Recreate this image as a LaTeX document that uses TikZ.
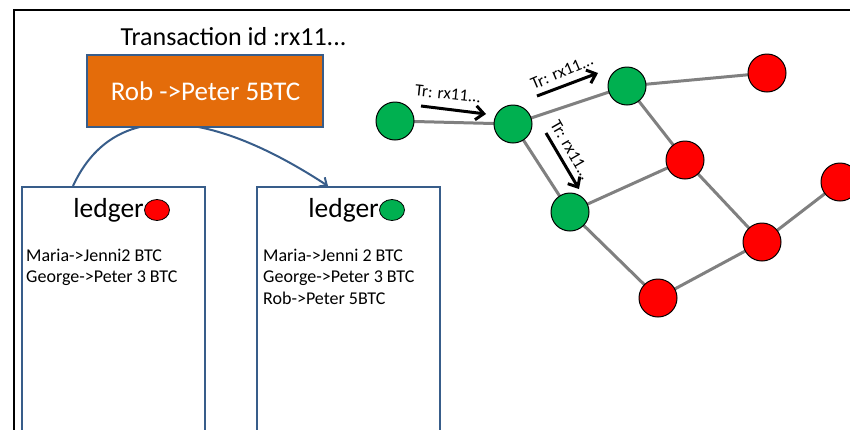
\documentclass[tikz,border=0pt]{standalone}
\usepackage{fontspec}
\setmainfont{Carlito}
\usetikzlibrary{arrows.meta,shapes.geometric}
\definecolor{boxblue}{HTML}{385D8A}
\definecolor{txorange}{HTML}{E46C0A}
\definecolor{nodegreen}{HTML}{00B050}
\definecolor{nodered}{HTML}{FF0000}
\definecolor{linkgray}{HTML}{808080}

\begin{document}
\begin{tikzpicture}[x=1pt,y=-1pt,
  peer/.style={circle,draw=black,line width=1pt,minimum size=38pt,inner sep=0pt},
  ok/.style={peer,fill=nodegreen},
  bad/.style={peer,fill=nodered},
  link/.style={draw=linkgray,line width=3pt},
  ledgerbox/.style={draw=boxblue,line width=2pt,minimum width=183pt,minimum height=270pt,anchor=north,inner sep=0pt},
  ledgertitle/.style={anchor=base east,inner sep=0pt,font=\fontsize{27.5}{31}\selectfont},
  dot/.style={ellipse,draw=black,line width=0.8pt,minimum width=25pt,minimum height=21pt,inner sep=0pt},
  entry/.style={anchor=base west,inner sep=0pt,font=\fontsize{18}{21}\selectfont},
  txarrow/.style={line width=3pt,-{Straight Barb[length=8pt,width=14pt]}},
  txlabel/.style={font=\fontsize{17}{19}\selectfont,inner sep=0pt},
]
\useasboundingbox (0,0) rectangle (850,429);

% outer frame (only top and left edges fall inside the page)
\draw[line width=2.5pt] (14,440) -- (14,10) -- (860,10);

% ledger boxes
\node[ledgerbox] (ledgerold) at (113.5,186) {};
\node[ledgerbox] (ledgernew) at (348.5,186) {};

% transfer of the ledger, passing behind the transaction box
\draw[draw=boxblue,line width=2pt,-{Straight Barb[length=6pt,width=11pt]}]
  ([xshift=-40.5pt]ledgerold.north) .. controls (115,95) and (215,112) .. ([xshift=-20.5pt]ledgernew.north);

% transaction
\node[anchor=base,inner sep=0pt,font=\fontsize{26}{30}\selectfont] (txid) at (233.5,45) {Transaction id :rx11...};
\node[draw=boxblue,line width=2pt,fill=txorange,minimum width=236pt,minimum height=72pt,inner sep=0pt] (tx) at (205,91) {};
\node[anchor=base,inner sep=0pt,text=white,font=\fontsize{27}{31}\selectfont] (txtext) at (205.5,100) {Rob ->Peter 5BTC};

% ledger contents
\node[ledgertitle] (oldtitle) at (144,217) {ledger};
\node[dot,fill=nodered] (olddot) at (157,210) {};
\node[entry] (old1) at (26,261) {Maria->Jenni2 BTC};
\node[entry] (old2) at (26,282) {George->Peter 3 BTC};

\node[ledgertitle] (newtitle) at (379,217) {ledger};
\node[dot,fill=nodegreen] (newdot) at (392,210) {};
\node[entry] (new1) at (263,261) {Maria->Jenni 2 BTC};
\node[entry] (new2) at (263,282) {George->Peter 3 BTC};
\node[entry] (new3) at (263,304) {Rob->Peter 5BTC};

% peer network
\coordinate (pa) at (395,121);
\coordinate (pb) at (513,124);
\coordinate (pc) at (627,86);
\coordinate (pd) at (767,73);
\coordinate (pe) at (685,160);
\coordinate (pf) at (570,212);
\coordinate (pg) at (762,242);
\coordinate (ph) at (658,298);
\coordinate (pi) at (840,182);
\draw[link] (pa) -- (pb) -- (pc) -- (pd);
\draw[link] (pc) -- (pe) -- (pg) -- (pi);
\draw[link] (pb) -- (pf) -- (pe);
\draw[link] (pf) -- (ph) -- (pg);
\node[ok]  (na) at (pa) {};
\node[ok]  (nb) at (pb) {};
\node[ok]  (nc) at (pc) {};
\node[bad] (nd) at (pd) {};
\node[bad] (ne) at (pe) {};
\node[ok]  (nf) at (pf) {};
\node[bad] (ng) at (pg) {};
\node[bad] (nh) at (ph) {};
\node[bad] (ni) at (pi) {};

% propagation of the transaction
\coordinate (t1s) at (421,106);
\coordinate (t1e) at (486,114);
\coordinate (t2s) at (537,96);
\coordinate (t2e) at (598,73);
\coordinate (t3s) at (546,133);
\coordinate (t3e) at (579,189);
\draw[txarrow] (t1s) -- (t1e);
\draw[txarrow] (t2s) -- (t2e);
\draw[txarrow] (t3s) -- (t3e);
\node[txlabel,rotate=-6] (l1) at (448,94) {Tr: rx11...};
\node[txlabel,rotate=23] (l2) at (562,72) {Tr: rx11...};
\node[txlabel,rotate=-60] (l3) at (571,150) {Tr: rx11...};
\end{tikzpicture}
\end{document}
